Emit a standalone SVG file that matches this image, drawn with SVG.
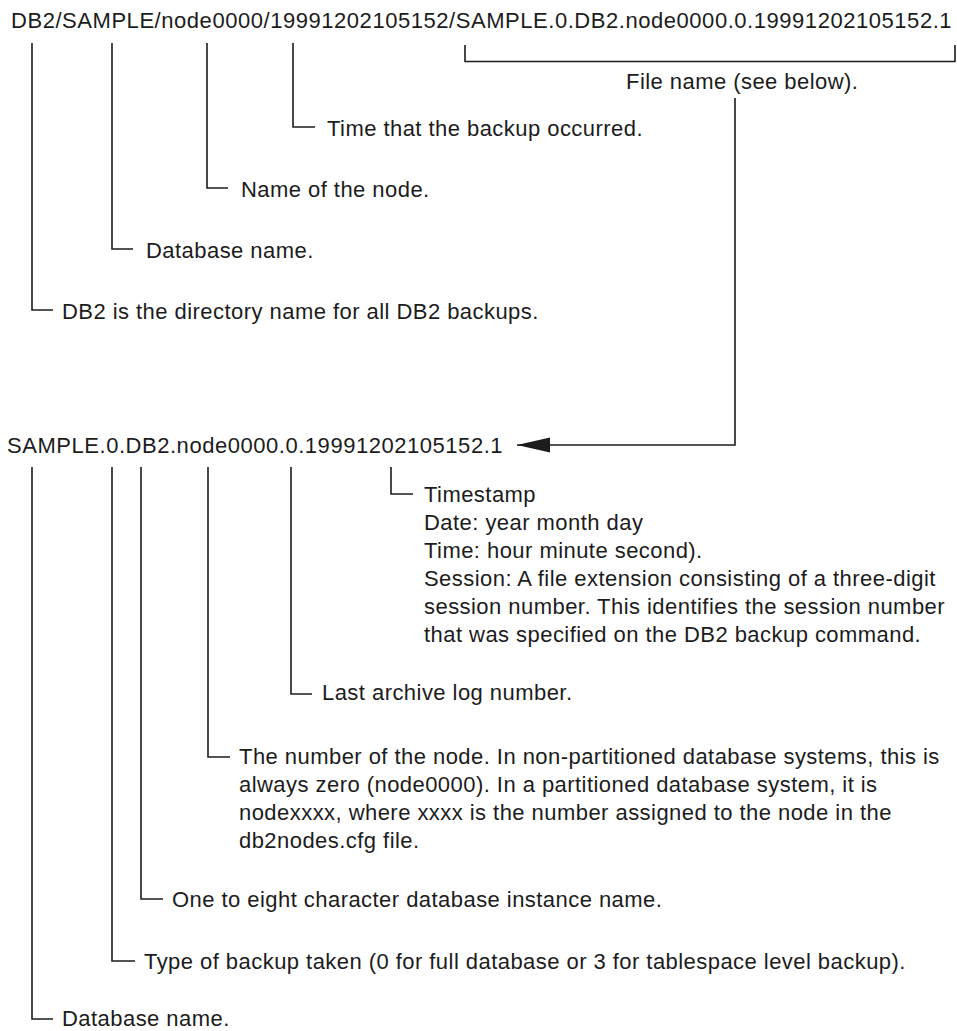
<svg xmlns="http://www.w3.org/2000/svg" width="957" height="1031" viewBox="0 0 957 1031">
<style>
  text { font-family: "Liberation Sans", Arial, Helvetica, sans-serif; font-size: 22px; fill: #1c1c1c; letter-spacing: 0.45px; }
  .ln { fill: none; stroke: #1c1c1c; stroke-width: 1.6; }
</style>
<defs>
  <marker id="arrow" markerUnits="userSpaceOnUse" markerWidth="34" markerHeight="16" refX="33" refY="7.5" orient="auto">
    <path d="M0,0 L33,7.5 L0,15 Z" fill="#1c1c1c"/>
  </marker>
</defs>
<rect width="957" height="1031" fill="#ffffff"/>

<g id="connectors">
  <path class="ln" d="M32,43 V310 H53"/>
  <path class="ln" d="M112,43 V249 H133"/>
  <path class="ln" d="M207,43 V188 H228"/>
  <path class="ln" d="M293,43 V127 H315"/>
  <path class="ln" d="M465,45 V61.5 H955 V45"/>
  <path class="ln" d="M735,98 V445 H517" marker-end="url(#arrow)"/>
  <path class="ln" d="M32,467 V1019 H53"/>
  <path class="ln" d="M112,467 V961 H135"/>
  <path class="ln" d="M141,467 V899 H163"/>
  <path class="ln" d="M208,467 V757 H230"/>
  <path class="ln" d="M291,467 V694 H312"/>
  <path class="ln" d="M391,467 V494 H413"/>
</g>

<g id="path-full">
  <text x="11" y="28" textLength="941" lengthAdjust="spacing">DB2/SAMPLE/node0000/19991202105152/SAMPLE.0.DB2.node0000.0.19991202105152.1</text>
</g>
<g id="file-name-label">
  <text x="626" y="89">File name (see below).</text>
</g>
<g id="time-label">
  <text x="327" y="135.5">Time that the backup occurred.</text>
</g>
<g id="node-name-label">
  <text x="241" y="196.5">Name of the node.</text>
</g>
<g id="db-name-label-top">
  <text x="146" y="258">Database name.</text>
</g>
<g id="db2-dir-label">
  <text x="62" y="318.5">DB2 is the directory name for all DB2 backups.</text>
</g>

<g id="file-name">
  <text x="7" y="453" textLength="496" lengthAdjust="spacing">SAMPLE.0.DB2.node0000.0.19991202105152.1</text>
</g>
<g id="timestamp-label">
  <text x="424" y="502">Timestamp</text>
  <text x="424" y="530">Date: year month day</text>
  <text x="424" y="558">Time: hour minute second).</text>
  <text x="424" y="586">Session: A file extension consisting of a three-digit</text>
  <text x="424" y="614">session number. This identifies the session number</text>
  <text x="424" y="642">that was specified on the DB2 backup command.</text>
</g>
<g id="log-label">
  <text x="322" y="700">Last archive log number.</text>
</g>
<g id="node-number-label">
  <text x="239" y="764">The number of the node. In non-partitioned database systems, this is</text>
  <text x="239" y="792">always zero (node0000). In a partitioned database system, it is</text>
  <text x="239" y="820">nodexxxx, where xxxx is the number assigned to the node in the</text>
  <text x="239" y="848">db2nodes.cfg file.</text>
</g>
<g id="instance-label">
  <text x="172" y="907">One to eight character database instance name.</text>
</g>
<g id="backup-type-label">
  <text x="144" y="969">Type of backup taken (0 for full database or 3 for tablespace level backup).</text>
</g>
<g id="db-name-label-bottom">
  <text x="62" y="1026">Database name.</text>
</g>
</svg>
